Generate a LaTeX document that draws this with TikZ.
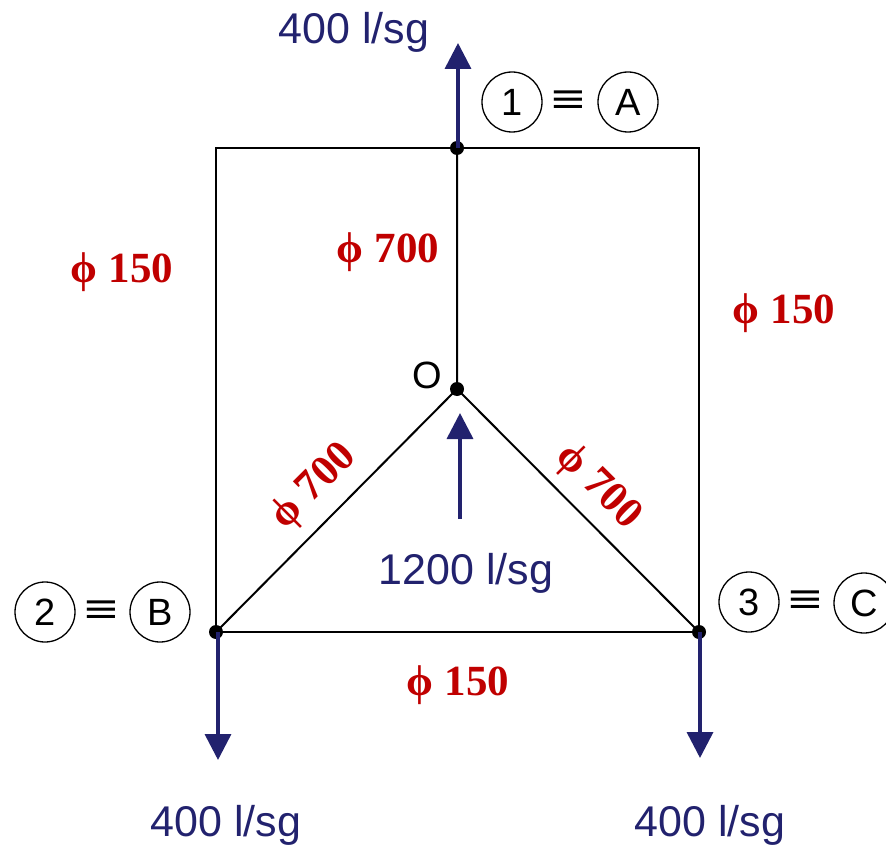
\documentclass[tikz,border=0pt]{standalone}
\usepackage{fontspec}
\setmainfont{Liberation Sans}
\newfontfamily\redfont{Liberation Serif}
\usetikzlibrary{arrows.meta}
\definecolor{flow}{RGB}{34,34,110}
\definecolor{dia}{RGB}{192,0,0}
\tikzset{
 x=1pt,y=-1pt,
 pipe/.style={draw=black,line width=2pt},
 jun/.style={circle,fill=black,inner sep=0pt,minimum size=14pt},
 flowarrow/.style={draw=flow,line width=3.6pt,-{Triangle[length=26pt,width=26pt]}},
 flowlabel/.style={text=flow,font=\fontsize{43}{43}\selectfont,inner sep=0pt},
 dialabel/.style={text=dia,font=\fontsize{43}{43}\selectfont\redfont\bfseries,inner sep=0pt},
 tag/.style={circle,draw=black,line width=1.3pt,minimum size=60pt,inner sep=0pt,font=\fontsize{38}{38}\selectfont},
 equiv/.style={font=\fontsize{42}{42}\selectfont,inner sep=0pt},
 plain/.style={font=\fontsize{38}{38}\selectfont,inner sep=0pt}
}
\newcommand{\eqvmark}{\scalebox{1.38}[1]{≡}}
\begin{document}
\begin{tikzpicture}
\useasboundingbox (0,0) rectangle (886,845);
\coordinate (tl) at (216,148);
\coordinate (tr) at (699,148);
\node[jun] (A) at (457,148) {};
\node[jun] (O) at (457,389) {};
\node[jun] (B) at (216,632) {};
\node[jun] (C) at (699,632) {};
\draw[pipe] (tl) -- (A.center) -- (tr) -- (C.center) -- (B.center) -- cycle;
\draw[pipe] (A.center) -- (O.center) -- (B.center);
\draw[pipe] (O.center) -- (C.center);
\coordinate (aend) at (458,43);
\coordinate (bend) at (218,760);
\coordinate (cend) at (700,758);
\coordinate (ostart) at (460,519);
\coordinate (oend) at (460,413);
\draw[flowarrow] (458,148) -- (aend);
\draw[flowarrow] (218,632) -- (bend);
\draw[flowarrow] (700,632) -- (cend);
\draw[flowarrow] (ostart) -- (oend);
\node[flowlabel] at (354,32) {400 l/sg};
\node[flowlabel] at (466,573) {1200 l/sg};
\node[flowlabel] at (226,825) {400 l/sg};
\node[flowlabel] at (710,825) {400 l/sg};
\node[dialabel] at (122,272) {ϕ 150};
\node[dialabel] at (388,252) {ϕ 700};
\node[dialabel] at (784,313) {ϕ 150};
\node[dialabel] at (458,685) {ϕ 150};
\node[dialabel,rotate=45] at (314,487) {ϕ 700};
\node[dialabel,rotate=-45] at (598,487) {ϕ 700};
\node[plain] at (427,375) {O};
\node[tag] at (512,102) {1};
\node[equiv] at (568,102) {\eqvmark};
\node[tag] at (628,102) {A};
\node[tag] at (45,612) {2};
\node[equiv] at (101,612) {\eqvmark};
\node[tag] at (160,612) {B};
\node[tag] at (749,602) {3};
\node[equiv] at (805,602) {\eqvmark};
\node[tag] at (864,603) {C};
\end{tikzpicture}
\end{document}
